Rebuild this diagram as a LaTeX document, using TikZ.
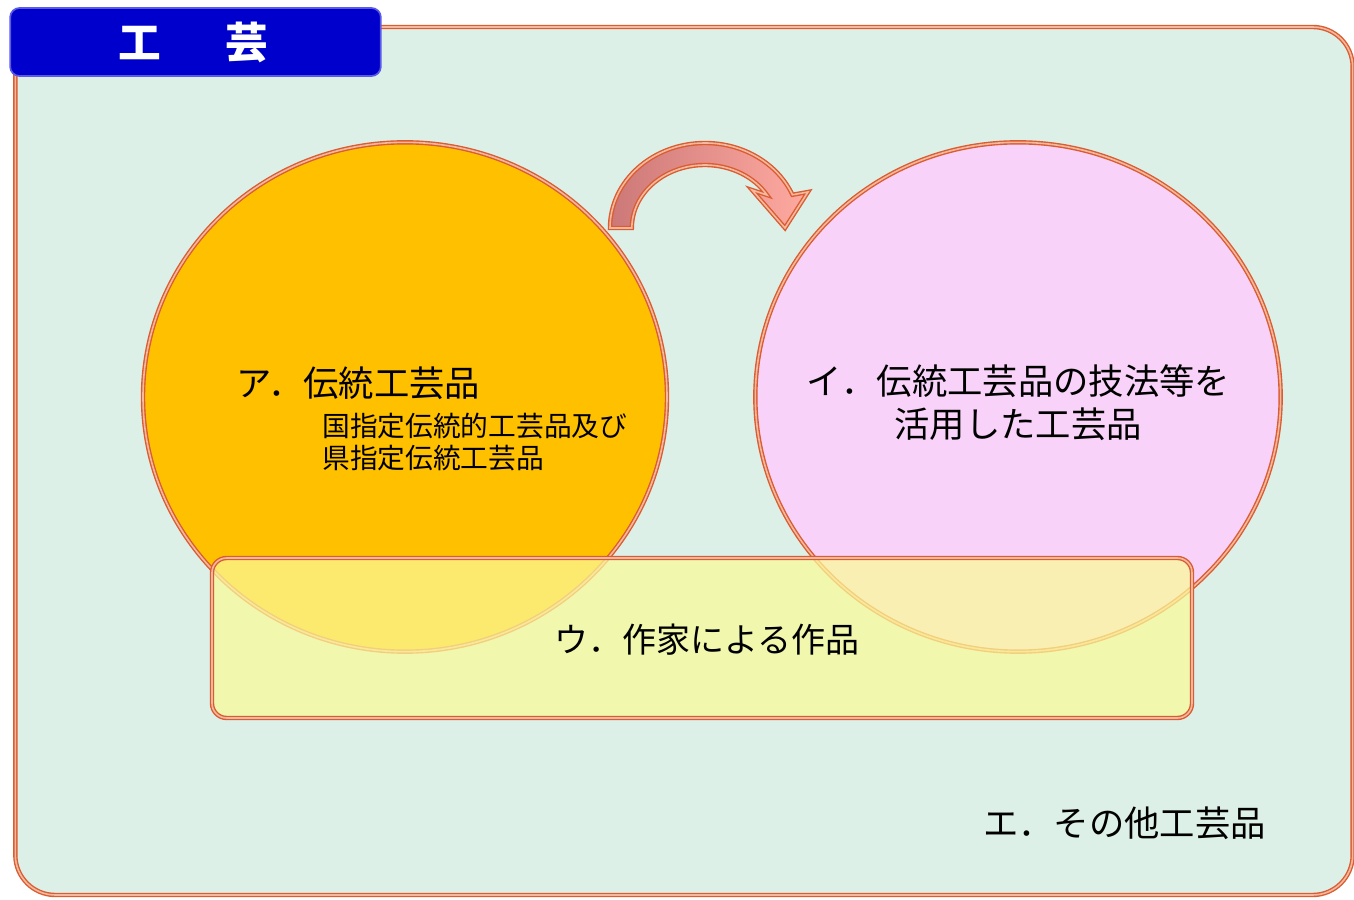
\documentclass[tikz,border=0pt]{standalone}
\usepackage{fontspec}
\newfontfamily\jp{Noto Sans CJK JP}
\usetikzlibrary{shapes.geometric}
\definecolor{bgc}{RGB}{221,240,231}
\definecolor{bord}{RGB}{218,92,48}
\definecolor{bordin}{RGB}{245,185,160}
\definecolor{orangef}{RGB}{255,192,0}
\definecolor{pinkf}{RGB}{248,210,248}
\definecolor{yellf}{RGB}{251,250,153}
\definecolor{titleb}{RGB}{0,0,204}
\definecolor{titleedge}{RGB}{90,90,230}
\definecolor{arrL}{RGB}{204,120,120}
\definecolor{arrR}{RGB}{255,170,160}
\begin{document}
\begin{tikzpicture}[x=0.75pt,y=0.75pt,
  dbl/.style={draw=bord, double=bordin, double distance=1.2pt, line width=1.05pt},
  lbl/.style={font=\jp, text=black, inner sep=0pt}]
\useasboundingbox (0,0) rectangle (1354,900);
% outer frame
\node[dbl, fill=bgc, rounded corners=30pt, minimum width=1003pt, minimum height=651pt, inner sep=0pt] (frame) at (684,439) {};
% title
\node[fill=titleb, draw=titleedge, line width=1.3pt, rounded corners=7pt, minimum width=278pt, minimum height=51pt, inner sep=0pt] (title) at (195.5,858) {};
\node[lbl, text=white, font=\jp\bfseries\fontsize{32}{34}\selectfont] (titletxt) at (193,858) {工\hspace{1.5em}芸};
% circles
\node[ellipse, dbl, fill=orangef, minimum width=393pt, minimum height=382pt, inner sep=0pt] (ellA) at (405,503) {};
\node[ellipse, dbl, fill=pinkf, minimum width=394pt, minimum height=382pt, inner sep=0pt] (ellI) at (1018,503) {};
% curved arrow
\draw[dbl, left color=arrL, right color=arrR]
  (610,672) arc[start angle=180, end angle=23, x radius=95, y radius=85]
  -- (808,708) -- (785,672) -- (752,710) -- (767,705)
  arc[start angle=31.6, end angle=180, x radius=73, y radius=63] -- cycle;
% rectangle U
\node[dbl, fill=yellf, fill opacity=0.73, rounded corners=11pt, minimum width=735pt, minimum height=120pt, inner sep=0pt] (rectU) at (702,262) {};
% texts
\node[lbl, anchor=west, font=\jp\fontsize{26.5}{30}\selectfont] (tA) at (236,517) {ア．伝統工芸品};
\node[lbl, anchor=north west, align=left, font=\jp\fontsize{20.8}{24}\selectfont] (tA2) at (322,487) {国指定伝統的工芸品及び\\県指定伝統工芸品};
\node[lbl, align=center, font=\jp\fontsize{26.5}{32.5}\selectfont] (tI) at (1018,497) {イ．伝統工芸品の技法等を\\活用した工芸品};
\node[lbl, font=\jp\fontsize{25.5}{30}\selectfont] (tU) at (707,260) {ウ．作家による作品};
\node[lbl, anchor=east, font=\jp\fontsize{26.5}{30}\selectfont] (tE) at (1266,77) {エ．その他工芸品};
\end{tikzpicture}
\end{document}
